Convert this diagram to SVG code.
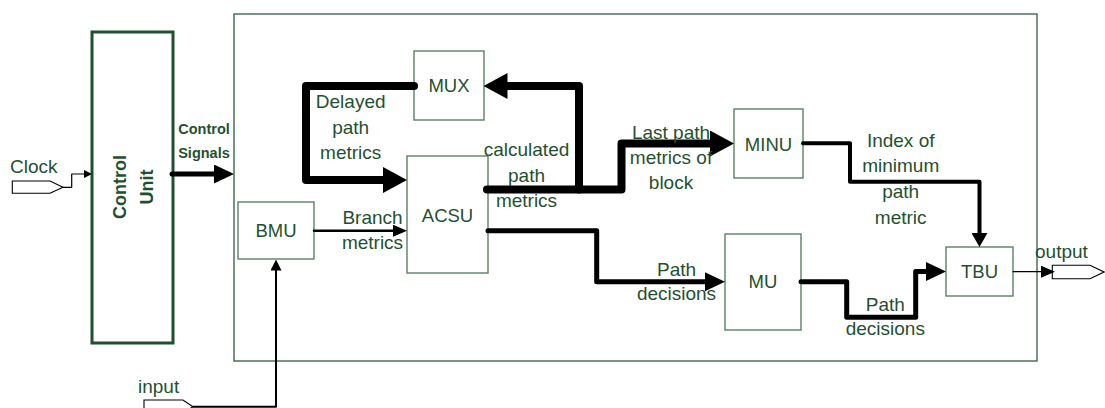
<svg xmlns="http://www.w3.org/2000/svg" width="1105" height="408" viewBox="0 0 1105 408">
<style>
  .lbl{font-family:"Liberation Sans",Arial,sans-serif;font-size:19px;fill:#1f5130;text-anchor:middle}
  .nm{font-family:"Liberation Sans",Arial,sans-serif;font-size:18.5px;fill:#1f5130;text-anchor:middle}
  .box{fill:#fff;stroke:#5b8066;stroke-width:1.4}
  .c{fill:none;stroke:#000;stroke-linejoin:round;stroke-linecap:round}
  .pent{fill:#fff;stroke:#000;stroke-width:1.1}
</style>
<defs>
  <marker id="mBig" markerUnits="userSpaceOnUse" markerWidth="24" markerHeight="26" refX="10" refY="13" orient="auto"><path d="M0,0 L24,13 L0,26 Z" fill="#000"/></marker>
  <marker id="mMed" markerUnits="userSpaceOnUse" markerWidth="20" markerHeight="19" refX="9" refY="9.5" orient="auto"><path d="M0,0 L20,9.5 L0,19 Z" fill="#000"/></marker>
  <marker id="mIdx" markerUnits="userSpaceOnUse" markerWidth="14" markerHeight="16" refX="6" refY="8" orient="auto"><path d="M0,0 L14,8 L0,16 Z" fill="#000"/></marker>
  <marker id="mSm" markerUnits="userSpaceOnUse" markerWidth="14" markerHeight="12" refX="6" refY="6" orient="auto"><path d="M0,0 L14,6 L0,12 Z" fill="#000"/></marker>
  <marker id="mTiny" markerUnits="userSpaceOnUse" markerWidth="11" markerHeight="11" refX="5" refY="5.5" orient="auto"><path d="M0,0 L11,5.5 L0,11 Z" fill="#000"/></marker>
  <marker id="mClk" markerUnits="userSpaceOnUse" markerWidth="8" markerHeight="8" refX="3" refY="4" orient="auto"><path d="M0,0 L8,4 L0,8 Z" fill="#000"/></marker>
</defs>
<rect width="1105" height="408" fill="#fff"/>

<!-- outer system box -->
<g id="system">
  <rect x="234" y="14" width="803" height="347" fill="none" stroke="#2e5e3e" stroke-width="1.3"/>
</g>

<g id="control-unit">
  <rect x="92" y="32" width="81" height="311" fill="#fff" stroke="#1f5130" stroke-width="3"/>
  <g transform="translate(132,187) rotate(-90)">
    <text x="0" y="-6.3" font-family="Liberation Sans,Arial,sans-serif" font-size="18px" font-weight="bold" fill="#1f5130" text-anchor="middle">Control</text>
    <text x="0" y="20.7" font-family="Liberation Sans,Arial,sans-serif" font-size="18px" font-weight="bold" fill="#1f5130" text-anchor="middle">Unit</text>
  </g>
</g>

<g id="clock">
  <polygon class="pent" points="12.3,181 50,181 63,187.3 50,193.3 12.3,193.3"/>
  <text class="lbl" x="10" y="173" style="text-anchor:start">Clock</text>
</g>

<g id="input">
  <polygon class="pent" points="144,400 183,400 193,406.7 183,413 144,413"/>
  <text class="lbl" x="138" y="393" style="text-anchor:start">input</text>
</g>

<g id="output">
  <polygon class="pent" points="1052.3,265.3 1090,265.3 1104,272 1090,278.7 1052.3,278.7"/>
  <text class="lbl" x="1035" y="258" style="text-anchor:start">output</text>
</g>

<g id="mux">
  <rect class="box" x="414" y="51" width="70" height="69"/>
  <text class="nm" x="449" y="91.7">MUX</text>
</g>

<g id="acsu">
  <rect class="box" x="407" y="156" width="81" height="117"/>
  <text class="nm" x="447.5" y="222">ACSU</text>
</g>

<g id="bmu">
  <rect class="box" x="238" y="202" width="76" height="57"/>
  <text class="nm" x="276" y="236.7">BMU</text>
</g>

<g id="minu">
  <rect class="box" x="734" y="109" width="69" height="69"/>
  <text class="nm" x="768.5" y="151">MINU</text>
</g>

<g id="mu">
  <rect class="box" x="725" y="234" width="76" height="96"/>
  <text class="nm" x="763" y="288">MU</text>
</g>

<g id="tbu">
  <rect class="box" x="946" y="247" width="67" height="49"/>
  <text class="nm" x="979.5" y="278">TBU</text>
</g>

<g id="connectors">
  <path class="c" stroke-width="1.2" d="M63,187.3 L71.7,187.3 L71.7,174 L87,174" marker-end="url(#mClk)"/>
  <path class="c" stroke-width="5" d="M172,174 L223,174" marker-end="url(#mMed)"/>
  <path class="c" stroke-width="2" d="M193,406.7 L276,406.7 L276,265.5" marker-end="url(#mTiny)"/>
  <path class="c" stroke-width="2.5" d="M314,230.7 L399,230.7" marker-end="url(#mSm)"/>
  <path class="c" stroke-width="8" d="M414,86 L306,86 L306,180 L393,180" marker-end="url(#mBig)"/>
  <path class="c" stroke-width="8" d="M487,189.5 L579,189.5 L579,86 L497.5,86" marker-end="url(#mBig)"/>
  <path class="c" stroke-width="8" d="M579,189.5 L621.5,189.5 L621.5,143.5 L720,143.5" marker-end="url(#mBig)"/>
  <path class="c" stroke-width="5" d="M488,230.7 L596.7,230.7 L596.7,281.7 L714,281.7" marker-end="url(#mMed)"/>
  <path class="c" stroke-width="5" d="M801,281.7 L846.7,281.7 L846.7,317.3 L915.7,317.3 L915.7,271.5 L935,271.5" marker-end="url(#mMed)"/>
  <path class="c" stroke-width="4" d="M803,143.3 L850,143.3 L850,181.7 L979.5,181.7 L979.5,239" marker-end="url(#mIdx)"/>
  <path class="c" stroke-width="1.2" d="M1013,271.7 L1047,271.7" marker-end="url(#mSm)"/>
</g>

<g id="labels">
  <text x="204" y="134.3" font-family="Liberation Sans,Arial,sans-serif" font-size="14.5px" font-weight="bold" fill="#1f5130" text-anchor="middle">Control</text>
  <text x="204" y="158" font-family="Liberation Sans,Arial,sans-serif" font-size="14.5px" font-weight="bold" fill="#1f5130" text-anchor="middle">Signals</text>
  <text class="lbl" x="350.7" y="108.3">Delayed</text>
  <text class="lbl" x="350.7" y="133.5">path</text>
  <text class="lbl" x="350.7" y="159.3">metrics</text>
  <text class="lbl" x="372.5" y="224.3">Branch</text>
  <text class="lbl" x="372.5" y="249">metrics</text>
  <text class="lbl" x="526.5" y="156">calculated</text>
  <text class="lbl" x="526.5" y="181.7">path</text>
  <text class="lbl" x="526.5" y="206.7">metrics</text>
  <text class="lbl" x="671" y="139.3">Last path</text>
  <text class="lbl" x="671" y="164.3">metrics of</text>
  <text class="lbl" x="671" y="189.3">block</text>
  <text class="lbl" x="900.7" y="147.3">Index of</text>
  <text class="lbl" x="900.7" y="172.3">minimum</text>
  <text class="lbl" x="900.7" y="198.3">path</text>
  <text class="lbl" x="900.7" y="224.3">metric</text>
  <text class="lbl" x="676.5" y="275.7">Path</text>
  <text class="lbl" x="676.5" y="300">decisions</text>
  <text class="lbl" x="885.3" y="310.7">Path</text>
  <text class="lbl" x="885.3" y="335">decisions</text>
</g>
</svg>
